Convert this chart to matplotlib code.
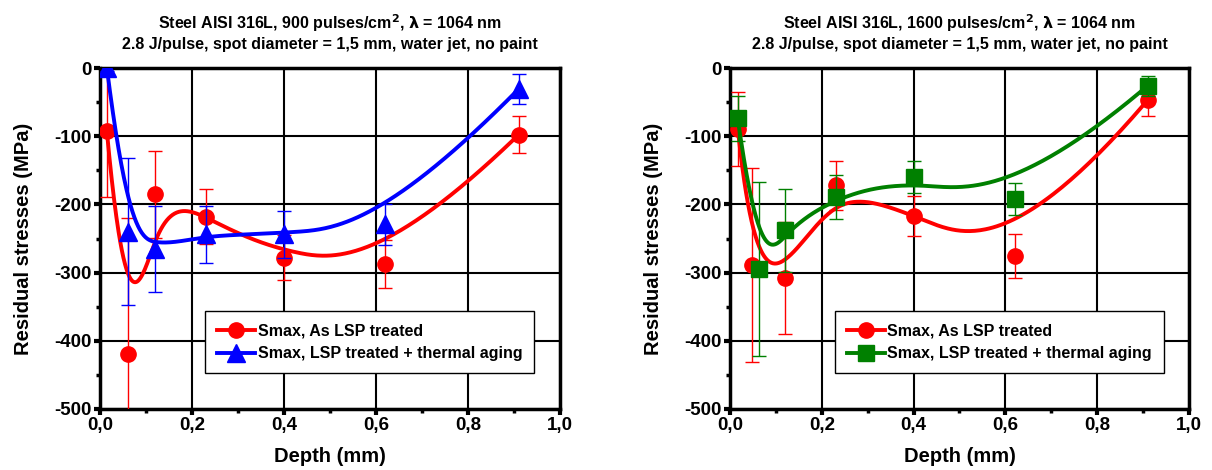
import numpy as np
import matplotlib
matplotlib.use("Agg")
import matplotlib.pyplot as plt
from matplotlib.ticker import MultipleLocator, FuncFormatter

plt.rcParams["font.family"] = ["Liberation Sans", "DejaVu Sans"]
plt.rcParams["font.weight"] = "bold"

# depth positions (mm)
depth = [0.015, 0.06, 0.12, 0.23, 0.40, 0.62, 0.91]
depth_1600_lsp = [0.017, 0.048, 0.12, 0.23, 0.40, 0.62, 0.91]
depth_1600_aged = [0.017, 0.063, 0.12, 0.23, 0.40, 0.62, 0.91]

# 900 pulses/cm2
s900_lsp = [-93, -420, -185, -218, -278, -287, -98]
e900_lsp = [96, 200, 64, 40, 33, 35, 27]
s900_aged = [0, -240, -265, -244, -244, -229, -31]
e900_aged = [5, 108, 63, 42, 35, 30, 22]

# 1600 pulses/cm2
s1600_lsp = [-89, -289, -308, -172, -217, -276, -47]
e1600_lsp = [54, 142, 82, 36, 29, 32, 23]
s1600_aged = [-74, -295, -238, -189, -160, -192, -26]
e1600_aged = [33, 128, 61, 32, 24, 24, 15]

titles = ["Steel AISI 316L, 900 pulses/cm$^\\mathbf{2}$, $\\mathbf{\\lambda}$ = 1064 nm\n"
          "2.8 J/pulse, spot diameter = 1,5 mm, water jet, no paint",
          "Steel AISI 316L, 1600 pulses/cm$^\\mathbf{2}$, $\\mathbf{\\lambda}$ = 1064 nm\n"
          "2.8 J/pulse, spot diameter = 1,5 mm, water jet, no paint"]
label_lsp = "Smax, As LSP treated"
label_aged = "Smax, LSP treated + thermal aging"


def bspline(px, py, n=400, k=3):
    """Clamped B-spline using the data points as control points (like Origin's B-spline)"""
    pts = np.column_stack([px, py]).astype(float)
    m = len(pts)
    knots = np.concatenate([np.zeros(k), np.arange(m - k + 1), np.full(k, m - k)]).astype(float)
    t = np.linspace(0, m - k, n)
    t[-1] -= 1e-9
    # Cox-de Boor
    B = np.zeros((n, len(knots) - 1))
    for i in range(len(knots) - 1):
        B[:, i] = (t >= knots[i]) & (t < knots[i + 1])
    for d in range(1, k + 1):
        Bn = np.zeros((n, len(knots) - 1 - d))
        for i in range(len(knots) - 1 - d):
            a = knots[i + d] - knots[i]
            b = knots[i + d + 1] - knots[i + 1]
            term = 0
            if a > 0:
                term = term + (t - knots[i]) / a * B[:, i]
            if b > 0:
                term = term + (knots[i + d + 1] - t) / b * B[:, i + 1]
            Bn[:, i] = term
        B = Bn
    out = B @ pts
    return out[:, 0], out[:, 1]


def draw_panel(ax, x1, y1, e1, x2, y2, e2, color2, marker2, ms2, title):
    for x, y, e, c, m, ms, z in [(x1, y1, e1, "#ff0000", "o", 11, 3),
                                 (x2, y2, e2, color2, marker2, ms2, 4)]:
        ax.errorbar(x, y, yerr=e, fmt="none", ecolor=c, elinewidth=1, capsize=5,
                    capthick=1, zorder=z)
        cx, cy = bspline(x, y)
        ax.plot(cx, cy, color=c, lw=2.8, zorder=z)
        ax.plot(x, y, ls="none", marker=m, ms=ms, color=c, zorder=z)
    h1 = ax.plot([], [], color="#ff0000", lw=2.8, marker="o", ms=11)[0]
    h2 = ax.plot([], [], color=color2, lw=2.8, marker=marker2, ms=ms2)[0]
    leg = ax.legend([h1, h2], [label_lsp, label_aged], loc="lower left",
                    bbox_to_anchor=(0.228, 0.105), fancybox=False, framealpha=1,
                    edgecolor="black", fontsize=11.5, handlelength=2.4,
                    handletextpad=0.15, borderpad=0.75, labelspacing=0.5,
                    borderaxespad=0)
    leg.get_frame().set_linewidth(1)
    leg.set_zorder(10)

    ax.set_xlim(0, 1)
    ax.set_ylim(-500, 0)
    ax.xaxis.set_major_locator(MultipleLocator(0.2))
    ax.xaxis.set_minor_locator(MultipleLocator(0.1))
    ax.yaxis.set_major_locator(MultipleLocator(100))
    ax.yaxis.set_minor_locator(MultipleLocator(50))
    ax.xaxis.set_major_formatter(FuncFormatter(lambda v, p: f"{v:.1f}".replace(".", ",")))
    ax.yaxis.set_major_formatter(FuncFormatter(lambda v, p: f"{v:.0f}"))
    ax.grid(True, which="major", color="black", lw=1.5)
    ax.set_axisbelow(True)
    ax.tick_params(which="major", direction="out", length=4, width=3, labelsize=13.5, pad=2)
    ax.tick_params(which="minor", direction="out", length=3, width=2.5)
    for s in ax.spines.values():
        s.set_linewidth(2.5)
    ax.set_xlabel("Depth (mm)", fontsize=14.5, fontweight="bold", labelpad=9)
    ax.set_ylabel("Residual stresses (MPa)", fontsize=14.5, fontweight="bold", labelpad=15)
    ax.set_title(title, fontsize=11.5, fontweight="bold", pad=14, linespacing=1.2)
    for lab in ax.get_xticklabels() + ax.get_yticklabels():
        lab.set_fontweight("bold")


fig = plt.figure(figsize=(12.12, 4.70), dpi=100)
ax1 = fig.add_axes([0.0825, 0.1298, 0.3795, 0.7255])
ax2 = fig.add_axes([0.6023, 0.1298, 0.3787, 0.7255])

draw_panel(ax1, depth, s900_lsp, e900_lsp, depth, s900_aged, e900_aged,
           "#0000ff", "^", 13, titles[0])
draw_panel(ax2, depth_1600_lsp, s1600_lsp, e1600_lsp, depth_1600_aged, s1600_aged, e1600_aged,
           "#008000", "s", 11, titles[1])

fig.savefig("out.png", dpi=100)
